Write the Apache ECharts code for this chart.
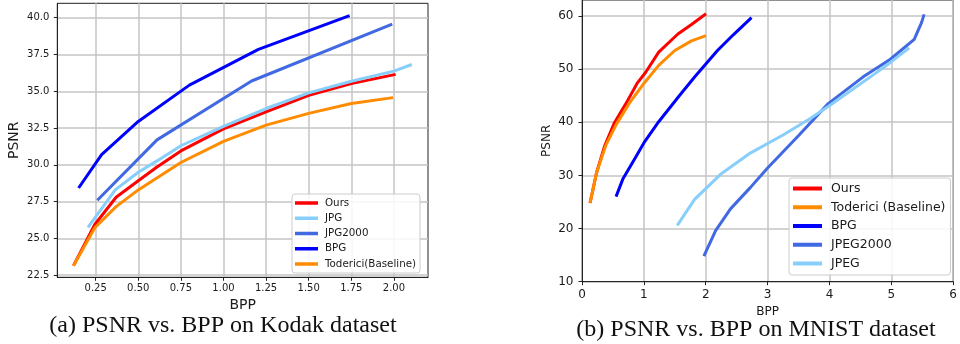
<!DOCTYPE html>
<html>
<head>
<meta charset="utf-8">
<script src="https://cdn.jsdelivr.net/npm/echarts@6/dist/echarts.min.js"></script>
<style>
  html, body { margin: 0; padding: 0; background: #fff; }
  #chart { width: 960px; height: 344px; }
</style>
</head>
<body>
<div id="chart"></div>
<script>
// (a) Kodak: [bpp, psnr]
const kodakOurs = [[0.12, 23.15], [0.245, 25.95], [0.37, 27.8], [0.5, 28.92], [0.61, 29.85], [0.75, 30.95], [1.0, 32.45], [1.25, 33.6], [1.5, 34.72], [1.75, 35.52], [2.01, 36.15]];
const kodakJpg = [[0.205, 25.75], [0.365, 28.3], [0.5, 29.5], [0.61, 30.27], [0.75, 31.3], [1.0, 32.62], [1.25, 33.83], [1.5, 34.89], [1.75, 35.68], [2.0, 36.37], [2.105, 36.82]];
const kodakJpg2000 = [[0.26, 27.6], [0.61, 31.7], [1.165, 35.7], [1.99, 39.57]];
const kodakBpg = [[0.15, 28.43], [0.285, 30.7], [0.5, 32.95], [0.8, 35.42], [1.205, 37.85], [1.74, 40.14]];
const kodakToderici = [[0.12, 23.15], [0.245, 25.73], [0.37, 27.16], [0.5, 28.3], [0.75, 30.16], [1.0, 31.6], [1.25, 32.7], [1.5, 33.5], [1.75, 34.17], [1.995, 34.57]];

// (b) MNIST: [bpp, psnr]
const mnistOurs = [[0.13, 24.8], [0.235, 30.5], [0.365, 35.5], [0.52, 39.8], [0.71, 43.5], [0.89, 47.3], [1.03, 49.4], [1.24, 53.2], [1.55, 56.6], [1.77, 58.4], [2.005, 60.4]];
const mnistToderici = [[0.13, 24.8], [0.235, 30.5], [0.39, 35.8], [0.55, 39.5], [0.76, 43.5], [1.0, 47.3], [1.24, 50.7], [1.5, 53.5], [1.77, 55.3], [2.005, 56.3]];
const mnistBpg = [[0.55, 26.0], [0.66, 29.3], [0.815, 32.4], [1.0, 36.1], [1.24, 40.1], [1.56, 44.8], [1.82, 48.5], [2.005, 51.0], [2.19, 53.5], [2.45, 56.5], [2.74, 59.7]];
const mnistJpeg2000 = [[1.97, 14.8], [2.16, 19.6], [2.4, 23.7], [2.72, 27.7], [3.0, 31.4], [3.51, 37.6], [3.98, 43.5], [4.54, 48.5], [4.99, 51.9], [5.37, 55.6], [5.49, 58.8], [5.53, 60.3]];
const mnistJpeg = [[1.54, 20.6], [1.82, 25.5], [2.24, 30.2], [2.72, 34.2], [3.25, 37.6], [3.69, 40.7], [4.01, 43.2], [4.73, 49.1], [4.99, 51.3], [5.29, 54.0]];

const kodakXTicks = [0.25, 0.5, 0.75, 1.0, 1.25, 1.5, 1.75, 2.0];
const kodakYTicks = [22.5, 25.0, 27.5, 30.0, 32.5, 35.0, 37.5, 40.0];
const mnistXTicks = [0, 1, 2, 3, 4, 5, 6];
const mnistYTicks = [10, 20, 30, 40, 50, 60];

const kodakLegend = ['Ours', 'JPG', 'JPG2000', 'BPG', 'Toderici(Baseline)'];
const mnistLegend = ['Ours', 'Toderici (Baseline)', 'BPG', 'JPEG2000', 'JPEG'];

const captionA = '(a) PSNR vs. BPP on Kodak dataset';
const captionB = '(b) PSNR vs. BPP on MNIST dataset';

const RED = '#ff0000', ORANGE = '#ff8c00', BLUE = '#0000ff', ROYAL = '#4169e1', SKY = '#87cefa';
const SANS = 'DejaVu Sans';
const TXT = '#1a1a1a';
const GRIDLINE = { show: true, lineStyle: { color: '#c4c4c4', width: 1.5 } };

function line(name, data, color, axis) {
    return {
        type: 'line',
        name,
        data,
        xAxisIndex: axis,
        yAxisIndex: axis,
        showSymbol: false,
        symbol: 'none',
        silent: true,
        lineStyle: { color, width: 3 },
        itemStyle: { color },
    };
}

function valueAxis(extra, ticks, fontSize, margin, fmt) {
    return Object.assign({
        type: 'value',
        axisLine: { show: true, lineStyle: { color: '#222', width: 1 } },
        axisTick: { show: true, inside: false, length: 3.5, customValues: ticks, lineStyle: { color: '#222' } },
        axisLabel: { customValues: ticks, fontFamily: SANS, fontSize, color: TXT, margin, formatter: fmt },
        splitLine: GRIDLINE,
        nameLocation: 'middle',
    }, extra);
}

const chart = echarts.init(document.getElementById('chart'), null, { renderer: 'canvas' });

chart.setOption({
    backgroundColor: '#fff',
    animation: false,
    grid: [
        { left: 57.3, right: 532, top: 3.3, bottom: 66.7, show: true, borderColor: '#222', borderWidth: 1 },
        { left: 582, right: 0, top: -2.8, bottom: 62.3, show: true, borderColor: '#222', borderWidth: 1 },
    ],
    xAxis: [
        valueAxis({ gridIndex: 0, min: 0.025, max: 2.2, name: 'BPP', nameGap: 20,
            nameTextStyle: { fontFamily: SANS, fontSize: 14, color: TXT } },
            kodakXTicks, 10, 6, (v) => v.toFixed(2)),
        valueAxis({ gridIndex: 1, min: 0, max: 6, name: 'BPP', nameGap: 22,
            nameTextStyle: { fontFamily: SANS, fontSize: 12, color: TXT } },
            mnistXTicks, 12, 7, (v) => String(v)),
    ],
    yAxis: [
        valueAxis({ gridIndex: 0, min: 22.36, max: 40.98, name: 'PSNR', nameGap: 36,
            nameTextStyle: { fontFamily: SANS, fontSize: 14, color: TXT } },
            kodakYTicks, 10, 8, (v) => v.toFixed(1)),
        valueAxis({ gridIndex: 1, min: 10, max: 63, name: 'PSNR', nameGap: 29,
            nameTextStyle: { fontFamily: SANS, fontSize: 12, color: TXT } },
            mnistYTicks, 12, 8.5, (v) => String(v)),
    ],
    legend: [
        {
            data: kodakLegend,
            orient: 'vertical',
            left: 292, top: 194,
            icon: 'rect',
            itemWidth: 23, itemHeight: 3.5, itemGap: 3.25,
            padding: [3, 4, 3, 3],
            backgroundColor: 'rgba(255,255,255,0.85)',
            borderColor: '#cccccc', borderWidth: 1, borderRadius: 3,
            textStyle: { fontFamily: SANS, fontSize: 10.3, lineHeight: 12, color: TXT, padding: [0, 0, 0, 2] },
            selectedMode: false,
        },
        {
            data: mnistLegend,
            orient: 'vertical',
            left: 789, top: 178,
            icon: 'rect',
            itemWidth: 29, itemHeight: 4, itemGap: 3.75,
            padding: [3, 5, 4, 4],
            backgroundColor: 'rgba(255,255,255,0.85)',
            borderColor: '#cccccc', borderWidth: 1, borderRadius: 3,
            textStyle: { fontFamily: SANS, fontSize: 12.5, lineHeight: 15, color: TXT, padding: [0, 0, 0, 4] },
            selectedMode: false,
        },
    ],
    graphic: [
        { type: 'text', x: 223, y: 325.8,
          style: { text: captionA, x: 0, y: 0, font: '24px "Liberation Serif"', fill: '#111', align: 'center', verticalAlign: 'middle' } },
        { type: 'text', x: 756, y: 329.8,
          style: { text: captionB, x: 0, y: 0, font: '24px "Liberation Serif"', fill: '#111', align: 'center', verticalAlign: 'middle' } },
    ],
    series: [
        line('Ours', kodakOurs, RED, 0),
        line('JPG', kodakJpg, SKY, 0),
        line('JPG2000', kodakJpg2000, ROYAL, 0),
        line('BPG', kodakBpg, BLUE, 0),
        line('Toderici(Baseline)', kodakToderici, ORANGE, 0),
        line('Ours', mnistOurs, RED, 1),
        line('Toderici (Baseline)', mnistToderici, ORANGE, 1),
        line('BPG', mnistBpg, BLUE, 1),
        line('JPEG2000', mnistJpeg2000, ROYAL, 1),
        line('JPEG', mnistJpeg, SKY, 1),
    ],
});
</script>
</body>
</html>
